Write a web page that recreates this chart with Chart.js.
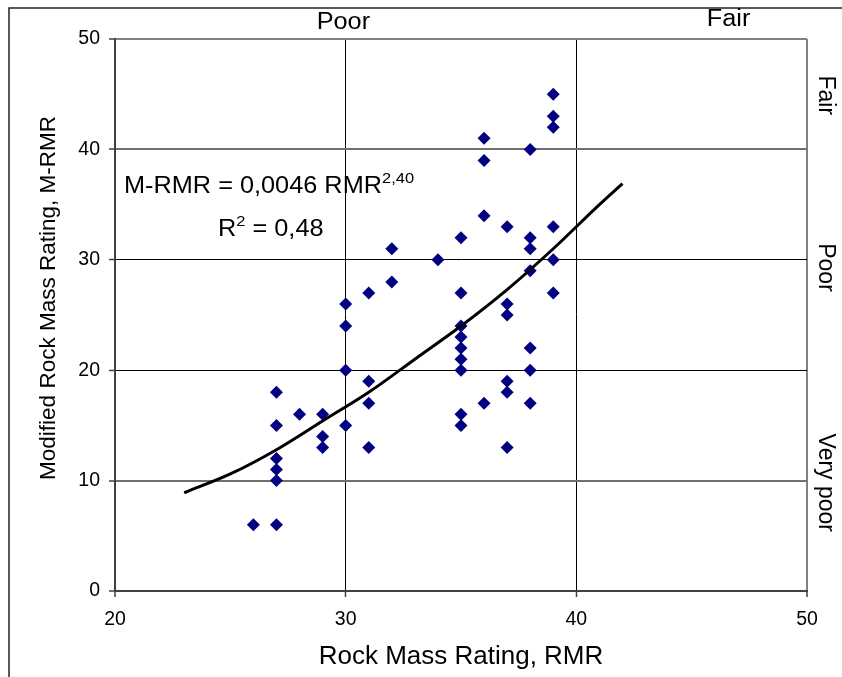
<!DOCTYPE html>
<html>
<head>
<meta charset="utf-8">
<script src="https://cdn.jsdelivr.net/npm/chart.js@4/dist/chart.umd.min.js"></script>
<style>
html, body { margin: 0; padding: 0; background: #fff; }
#chart { display: block; }
</style>
</head>
<body>
<canvas id="chart" width="842" height="677"></canvas>
<script>
// measured points, RMR (x) vs M-RMR (y)
const rmrValues = [
  26,
  27, 27, 27, 27, 27, 27,
  28,
  29, 29, 29,
  30, 30, 30, 30,
  31, 31, 31, 31,
  32, 32,
  34,
  35, 35, 35, 35, 35, 35, 35, 35, 35,
  36, 36, 36, 36,
  37, 37, 37, 37, 37, 37,
  38, 38, 38, 38, 38, 38, 38,
  39, 39, 39, 39, 39, 39
];
const mrmrValues = [
  6,
  18, 15, 12, 11, 10, 6,
  16,
  16, 14, 13,
  26, 24, 20, 15,
  27, 19, 17, 13,
  31, 28,
  30,
  32, 27, 24, 23, 22, 21, 20, 16, 15,
  41, 39, 34, 17,
  33, 26, 25, 19, 18, 13,
  40, 32, 31, 29, 22, 20, 17,
  45, 43, 42, 33, 30, 27
];

// power trend line
const trendRmr = [23, 25, 27, 29, 31, 33, 35, 37, 39, 41, 42];
const trendMrmr = [8.9, 10.6, 12.8, 15.4, 18.0, 21.0, 24.0, 27.3, 31.0, 35.0, 36.9];

const xTicks = [20, 30, 40, 50];
const yTicks = [0, 10, 20, 30, 40, 50];
const topClasses = ['Poor', 'Fair'];
const rightClasses = ['Fair', 'Poor', 'Very poor'];

const FONT = '"Liberation Sans", Arial, sans-serif';

function putText(ctx, txt, px, py, size, align, rot, sx) {
  ctx.save();
  ctx.translate(px, py);
  if (rot) ctx.rotate(rot);
  ctx.scale(sx || 1, 1);
  ctx.font = size + 'px ' + FONT;
  ctx.textAlign = align;
  ctx.fillStyle = '#000';
  ctx.textBaseline = 'alphabetic';
  ctx.fillText(txt, 0, 0);
  ctx.restore();
}

function textW(ctx, txt, size, sx) {
  ctx.save();
  ctx.font = size + 'px ' + FONT;
  const w = ctx.measureText(txt).width * (sx || 1);
  ctx.restore();
  return w;
}

const extras = {
  id: 'extras',
  afterDraw(chart) {
    const ctx = chart.ctx;
    const xs = chart.scales.x, ys = chart.scales.y;
    ctx.save();

    // outer frame (left + top)
    ctx.strokeStyle = '#222';
    ctx.lineWidth = 1.5;
    ctx.beginPath();
    ctx.moveTo(9, 677);
    ctx.lineTo(9, 8);
    ctx.lineTo(842, 8);
    ctx.stroke();

    // class names along the top
    putText(ctx, topClasses[0], xs.getPixelForValue(29.9), 29, 23, 'center', 0, 1.1);
    putText(ctx, topClasses[1], xs.getPixelForValue(46.6), 26, 23, 'center', 0, 1.1);

    // class names on the right, rotated
    const rightAt = [44.9, 29.3, 9.8];
    rightClasses.forEach((t, i) => {
      putText(ctx, t, 819, ys.getPixelForValue(rightAt[i]), 23, 'center', Math.PI / 2, 1);
    });

    // y axis title
    putText(ctx, 'Modified Rock Mass Rating, M-RMR', 55, 298, 22.5, 'center', -Math.PI / 2, 1);

    // regression equation
    let ex = 124;
    const l1 = 'M-RMR = 0,0046 RMR';
    putText(ctx, l1, ex, 193, 23, 'left', 0, 1.1);
    ex += textW(ctx, l1, 23, 1.1);
    putText(ctx, '2,40', ex, 183, 15, 'left', 0, 1.1);

    let rx = 218;
    putText(ctx, 'R', rx, 236, 23, 'left', 0, 1.1);
    rx += textW(ctx, 'R', 23, 1.1);
    putText(ctx, '2', rx, 226, 15, 'left', 0, 1.1);
    rx += textW(ctx, '2', 15, 1.1);
    putText(ctx, ' = 0,48', rx, 236, 23, 'left', 0, 1.1);

    ctx.restore();
  }
};

const ctx = document.getElementById('chart').getContext('2d');
const chart = new Chart(ctx, {
  type: 'scatter',
  data: {
    datasets: [
      {
        label: 'trend',
        data: trendRmr.map((v, i) => ({ x: v, y: trendMrmr[i] })),
        showLine: true,
        borderColor: '#000',
        borderWidth: 3,
        pointRadius: 0,
        tension: 0.4,
        cubicInterpolationMode: 'monotone'
      },
      {
        label: 'M-RMR',
        data: rmrValues.map((v, i) => ({ x: v, y: mrmrValues[i] })),
        pointStyle: 'rectRot',
        pointRadius: 6.5,
        backgroundColor: '#000080',
        borderWidth: 0
      }
    ]
  },
  options: {
    responsive: false,
    animation: false,
    layout: { padding: { top: 39, right: 35, left: 0, bottom: 0 } },
    plugins: {
      legend: { display: false },
      tooltip: { enabled: false }
    },
    scales: {
      x: {
        type: 'linear',
        min: 20,
        max: 50,
        afterBuildTicks: s => { s.ticks = xTicks.map(v => ({ value: v })); },
        afterFit: s => { s.height = 86; },
        border: { display: true, color: '#404040', width: 2 },
        grid: {
          color: c => c.tick.value === 50 ? '#808080' : (c.tick.value === 20 ? '#404040' : '#000'),
          lineWidth: c => (c.tick.value === 50 || c.tick.value === 20) ? 2 : 1,
          tickLength: 6,
          tickColor: '#404040',
          tickWidth: 1.5
        },
        ticks: {
          color: '#000',
          padding: 11,
          maxRotation: 0,
          font: { family: FONT, size: 19.5 }
        },
        title: {
          display: true,
          text: 'Rock Mass Rating, RMR',
          color: '#000',
          padding: { top: 0, bottom: 5 },
          font: { family: FONT, size: 26 }
        }
      },
      y: {
        type: 'linear',
        min: 0,
        max: 50,
        afterBuildTicks: s => { s.ticks = yTicks.map(v => ({ value: v })); },
        afterFit: s => { s.width = 115; },
        border: { display: true, color: '#404040', width: 2 },
        grid: {
          color: c => {
            const v = c.tick.value;
            if (v === 50) return '#808080';
            if (v === 0) return '#404040';
            if (v === 40 || v === 10) return '#707070';
            return '#000';
          },
          lineWidth: c => {
            const v = c.tick.value;
            return (v === 50 || v === 0 || v === 40 || v === 10) ? 2 : 1;
          },
          tickLength: 6,
          tickColor: '#404040',
          tickWidth: 1.5
        },
        ticks: {
          color: '#000',
          padding: 9,
          font: { family: FONT, size: 19.5 }
        }
      }
    }
  },
  plugins: [extras]
});
</script>
</body>
</html>
